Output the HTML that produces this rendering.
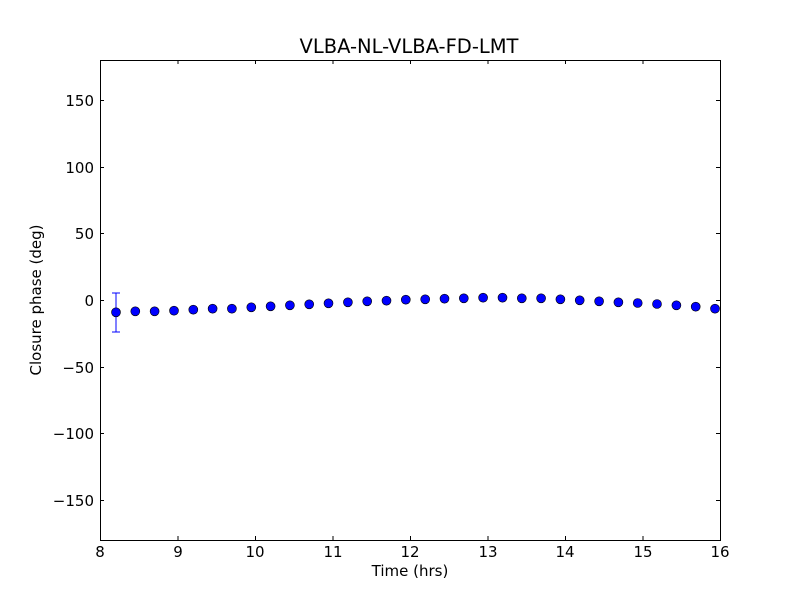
<!DOCTYPE html><html><head><style>body{margin:0;background:#fff}svg{display:block;font-family:"DejaVu Sans","Liberation Sans",sans-serif}</style></head><body>
<svg width="800" height="600" viewBox="0 0 800 600" xmlns="http://www.w3.org/2000/svg">
<rect width="800" height="600" fill="#fff"/>
<text x="409" y="53" font-size="19.5" text-anchor="middle">VLBA-NL-VLBA-FD-LMT</text>
<line x1="116" y1="293" x2="116" y2="332" stroke="#0000ff" stroke-width="1"/>
<line x1="112" y1="293" x2="120" y2="293" stroke="#0000ff"/>
<line x1="112" y1="332" x2="120" y2="332" stroke="#0000ff"/>
<g id="dots" fill="#0000ff" stroke="#000" stroke-width="0.6"></g>
<rect x="100.5" y="60.5" width="620" height="480" fill="none" stroke="#000" stroke-width="1"/>
<g stroke="#000" stroke-width="1">
<line x1="100" y1="100.5" x2="104" y2="100.5"/><line x1="720" y1="100.5" x2="716" y2="100.5"/>
<line x1="100" y1="167.5" x2="104" y2="167.5"/><line x1="720" y1="167.5" x2="716" y2="167.5"/>
<line x1="100" y1="233.5" x2="104" y2="233.5"/><line x1="720" y1="233.5" x2="716" y2="233.5"/>
<line x1="100" y1="300.5" x2="104" y2="300.5"/><line x1="720" y1="300.5" x2="716" y2="300.5"/>
<line x1="100" y1="367.5" x2="104" y2="367.5"/><line x1="720" y1="367.5" x2="716" y2="367.5"/>
<line x1="100" y1="433.5" x2="104" y2="433.5"/><line x1="720" y1="433.5" x2="716" y2="433.5"/>
<line x1="100" y1="500.5" x2="104" y2="500.5"/><line x1="720" y1="500.5" x2="716" y2="500.5"/>
<line x1="178" y1="540" x2="178" y2="536"/><line x1="178" y1="60" x2="178" y2="64"/>
<line x1="255.5" y1="540" x2="255.5" y2="536"/><line x1="255.5" y1="60" x2="255.5" y2="64"/>
<line x1="333" y1="540" x2="333" y2="536"/><line x1="333" y1="60" x2="333" y2="64"/>
<line x1="410.5" y1="540" x2="410.5" y2="536"/><line x1="410.5" y1="60" x2="410.5" y2="64"/>
<line x1="488" y1="540" x2="488" y2="536"/><line x1="488" y1="60" x2="488" y2="64"/>
<line x1="565.5" y1="540" x2="565.5" y2="536"/><line x1="565.5" y1="60" x2="565.5" y2="64"/>
<line x1="643" y1="540" x2="643" y2="536"/><line x1="643" y1="60" x2="643" y2="64"/>
</g>
<g font-size="15" text-anchor="end">
<text x="94" y="106">150</text><text x="94" y="173">100</text><text x="94" y="239">50</text><text x="94" y="306">0</text>
<text x="94" y="373">−50</text><text x="94" y="439">−100</text><text x="94" y="506">−150</text>
</g>
<g font-size="15" text-anchor="middle">
<text x="100" y="557">8</text><text x="178" y="557">9</text><text x="255" y="557">10</text><text x="333" y="557">11</text><text x="410" y="557">12</text><text x="488" y="557">13</text><text x="565" y="557">14</text><text x="643" y="557">15</text><text x="720" y="557">16</text>
</g>
<text x="410" y="576" font-size="15" text-anchor="middle">Time (hrs)</text>
<text transform="translate(41,300) rotate(-90)" font-size="15" text-anchor="middle">Closure phase (deg)</text>
</svg>
<script>
var ys=[97,94,94,92,89,86,86,82,79,76,73,70,67,64,62,59,58,56,55,53,53,55,55,58,61,64,67,69,72,76,80,86];
var g=document.getElementById('dots'),s='';
for(var i=0;i<ys.length;i++){var x=116+i*(715-116)/31,y=280+ys[i]/3;s+='<ellipse cx="'+x.toFixed(1)+'" cy="'+y.toFixed(1)+'" rx="4.5" ry="4.5"/>';}
g.innerHTML=s;
</script>
</body></html>
